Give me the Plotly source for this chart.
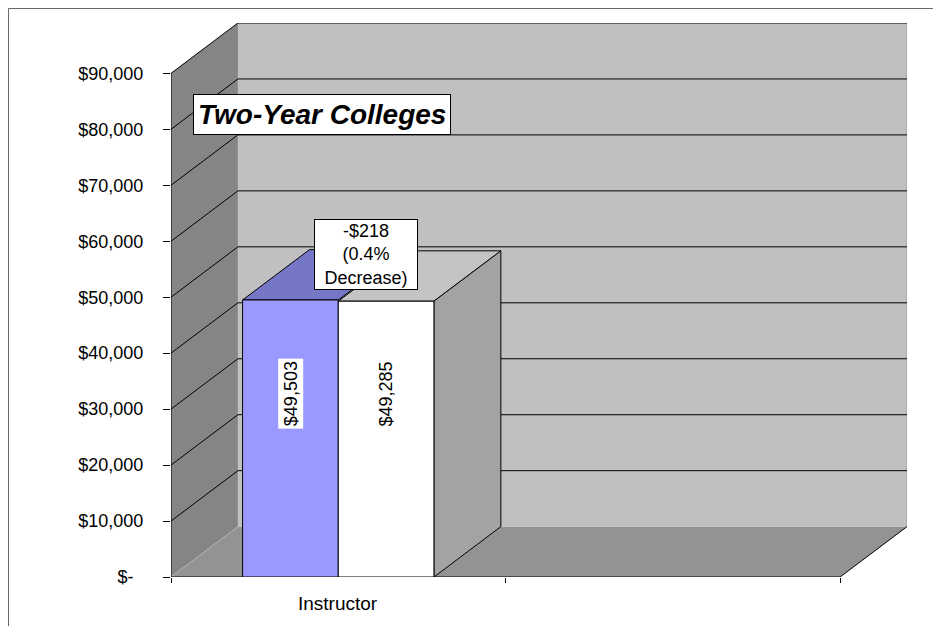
import plotly.graph_objects as go


# ==========================================================
# DATA
# ==========================================================

CATEGORIES = ["Instructor"]

SALARY_PREV = [49503]

SALARY_CURR = [49285]

Y_TICKS = [0, 10000, 20000, 30000, 40000, 50000, 60000, 70000, 80000, 90000]

Y_TICK_TEXT = ["$-\u00a0\u00a0", "$10,000", "$20,000", "$30,000", "$40,000",
               "$50,000", "$60,000", "$70,000", "$80,000", "$90,000"]


# ==========================================================
# THEME
# ==========================================================

FONT = "Liberation Sans, Arial, sans-serif"

BACK_WALL = "#C0C0C0"
SIDE_WALL = "#858585"
FLOOR = "#939393"

BLUE = "#9999FF"
BLUE_TOP = "#7676C6"
WHITE_TOP = "#C4C4C4"
WHITE_SIDE = "#A3A3A3"

# 3d depth in data units
DX = 0.2
DY = 9000
YMAX = 90000
NCAT = 2

BAR_W = 0.286


def poly(points, fill, line_color="black", line_width=1):
    path = "M " + " L ".join(f"{x},{y}" for x, y in points) + " Z"
    return dict(
        type="path",
        path=path,
        xref="x",
        yref="y",
        fillcolor=fill,
        line=dict(color=line_color, width=line_width),
        layer="below"
    )


def seg(x0, y0, x1, y1, color="black", width=1):
    return dict(
        type="line",
        xref="x",
        yref="y",
        x0=x0, y0=y0, x1=x1, y1=y1,
        line=dict(color=color, width=width),
        layer="below"
    )


shapes = []

# walls and floor
shapes.append(poly([(DX, DY), (NCAT + DX, DY), (NCAT + DX, YMAX + DY), (DX, YMAX + DY)],
                   BACK_WALL, line_width=0))
shapes.append(poly([(0, 0), (DX, DY), (DX, YMAX + DY), (0, YMAX)], SIDE_WALL, line_width=0))
shapes.append(poly([(0, 0), (NCAT, 0), (NCAT + DX, DY), (DX, DY)], FLOOR, line_width=0))
shapes.append(seg(0, 0, DX, DY, color="#B0B0B0"))
shapes.append(seg(NCAT + DX, DY, NCAT + DX, YMAX + DY, color="#9A9A9A"))

# gridlines on side and back walls
for v in Y_TICKS[1:]:
    shapes.append(seg(0, v, DX, v + DY))
    shapes.append(seg(DX, v + DY, NCAT + DX, v + DY))

# bars: top and side faces
center = 0.5
bars = [
    (center - BAR_W, center, SALARY_PREV[0], BLUE, BLUE_TOP),
    (center, center + BAR_W, SALARY_CURR[0], "white", WHITE_TOP),
]
for x0, x1, v, front, top in bars:
    shapes.append(poly([(x0, v), (x1, v), (x1 + DX, v + DY), (x0 + DX, v + DY)], top))
shapes.append(poly([(bars[1][1], 0), (bars[1][1], bars[1][2]),
                    (bars[1][1] + DX, bars[1][2] + DY), (bars[1][1] + DX, DY)], WHITE_SIDE))

# axis lines
shapes.append(seg(0, 0, 0, YMAX))
shapes.append(seg(0, 0, NCAT, 0))
shapes.append(seg(NCAT, 0, NCAT + DX, DY))

# outer frame
shapes.append(dict(
    type="rect",
    xref="paper",
    yref="paper",
    x0=-0.2208, y0=-0.15, x1=1.08, y1=1.0262,
    line=dict(color="#666666", width=1),
    fillcolor="rgba(0,0,0,0)",
    layer="above"
))


fig = go.Figure()

fig.add_trace(go.Bar(
    x=[center],
    y=SALARY_PREV,
    width=[BAR_W],
    offset=[-BAR_W],
    marker=dict(color=BLUE, line=dict(color="black", width=1)),
    hoverinfo="skip",
    showlegend=False
))

fig.add_trace(go.Bar(
    x=[center],
    y=SALARY_CURR,
    width=[BAR_W],
    offset=[0],
    marker=dict(color="white", line=dict(color="black", width=1)),
    hoverinfo="skip",
    showlegend=False
))


# ==========================================================
# ANNOTATIONS
# ==========================================================

annotations = []

for x0, x1, v, front, top in bars:
    annotations.append(dict(
        x=(x0 + x1) / 2,
        y=v * 0.5 + 8000,
        xref="x",
        yref="y",
        text=f"${v:,}",
        textangle=-90,
        showarrow=False,
        bgcolor="white",
        borderpad=2,
        font=dict(size=18, color="black", family=FONT)
    ))

diff = SALARY_CURR[0] - SALARY_PREV[0]
pct = abs(diff) / SALARY_PREV[0] * 100
sign = "-" if diff < 0 else "+"
word = "Decrease" if diff < 0 else "Increase"

annotations.append(dict(
    x=0.583,
    y=max(SALARY_PREV[0], SALARY_CURR[0]) + 8200,
    xref="x",
    yref="y",
    text=f"{sign}${abs(diff):,}<br>({pct:.1f}%<br>{word})",
    showarrow=False,
    width=100,
    bgcolor="white",
    bordercolor="black",
    borderwidth=1,
    borderpad=1,
    font=dict(size=18, color="black", family=FONT)
))

annotations.append(dict(
    x=0.2052,
    y=0.834,
    xref="paper",
    yref="paper",
    xanchor="center",
    yanchor="middle",
    text="<b><i>Two-Year Colleges</i></b>",
    showarrow=False,
    bgcolor="white",
    bordercolor="black",
    borderwidth=1,
    borderpad=4,
    font=dict(size=28, color="black", family=FONT)
))

annotations.append(dict(
    x=0.5,
    y=-0.047,
    xref="x",
    yref="paper",
    xanchor="center",
    yanchor="middle",
    text=CATEGORIES[0],
    showarrow=False,
    font=dict(size=19, color="black", family=FONT)
))


fig.update_layout(
    width=941,
    height=626,
    paper_bgcolor="white",
    plot_bgcolor="white",
    barmode="overlay",
    margin=dict(l=163, r=42, t=15, b=57),
    font=dict(family=FONT, color="black", size=18),
    shapes=shapes,
    annotations=annotations,
    showlegend=False
)

fig.update_xaxes(
    range=[0, NCAT + DX],
    tickvals=list(range(NCAT + 1)),
    ticktext=[""] * (NCAT + 1),
    ticks="outside",
    ticklen=5,
    tickcolor="black",
    showgrid=False,
    zeroline=False,
    showline=False
)

fig.update_yaxes(
    range=[0, YMAX + DY],
    tickvals=Y_TICKS,
    ticktext=Y_TICK_TEXT,
    ticks="outside",
    ticklen=7,
    tickcolor="black",
    ticklabelstandoff=16,
    tickfont=dict(size=18, color="black", family=FONT),
    showgrid=False,
    zeroline=False,
    showline=False
)

fig.write_html("out.html")
